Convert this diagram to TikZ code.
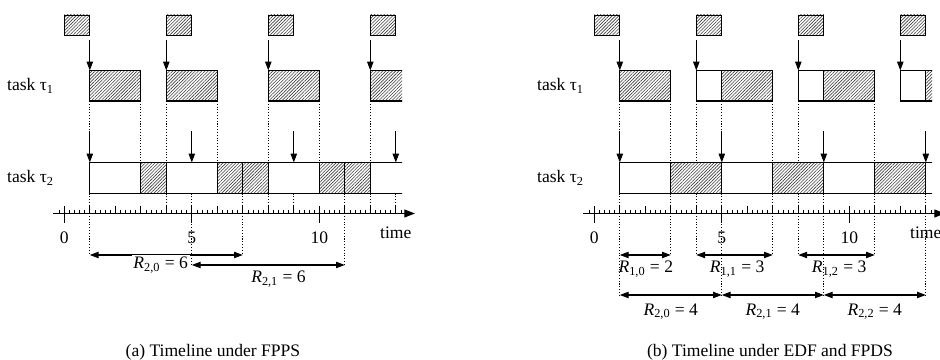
\documentclass[tikz,border=0pt]{standalone}
\usepackage{fontspec}
\setmainfont{Liberation Serif}
\usetikzlibrary{arrows.meta, patterns.meta}

\tikzset{
  hatched/.style={draw, line width=0.7pt,
    pattern={Lines[angle=45,distance=1.3pt,line width=0.35pt]},
    pattern color=black!75},
  plain/.style={draw, line width=0.7pt, fill=white},
  release/.style={-{Triangle[length=5pt,width=3.6pt]}, line width=0.6pt},
  guide/.style={densely dotted, line width=0.6pt},
  resp/.style={{Triangle[length=5pt,width=3.6pt]}-{Triangle[length=5pt,width=3.6pt]},
    line width=0.6pt},
  lbl/.style={font=\fontsize{10}{12}\selectfont, inner sep=0pt},
}

% arrivals, releases, time axis (same in both panels)
\newcommand{\timelinebase}{
  \foreach \t in {0,4,8,12}
    \draw[hatched, line width=0.5pt] (\t,6.5) rectangle ++(1,0.4);
  \foreach \t in {1,4,8,12}
    \draw[release] (\t,6.39) -- (\t,5.79);
  \foreach \t in {1,5,9,13}
    \draw[release] (\t,4.57) -- (\t,3.95);
  \draw[-{Triangle[length=6pt,width=4.5pt]}, line width=0.6pt]
    (-0.43,2.93) -- (13.75,2.93);
  \foreach \i in {-1,...,66}
    \draw[line width=0.4pt] (\i*0.2,2.93) -- ++(0,0.06);
  \foreach \i in {0,...,13}
    \draw[line width=0.4pt] (\i,2.93) -- ++(0,0.14);
  \foreach \i in {0,5,10}{
    \draw[line width=0.6pt] (\i,3.07) -- (\i,2.74);
    \node[lbl] (tick\i) at (\i,2.44) {\i};
  }
  \node[lbl] (time) at (13,2.54) {time};
  \node[lbl] (task1) at (-1.325,5.48) {task τ\textsubscript{1}};
  \node[lbl] (task2) at (-1.325,3.64) {task τ\textsubscript{2}};
}

\begin{document}
\begin{tikzpicture}
\useasboundingbox (0,0) rectangle (18.8,7.2);

% (a) FPPS
\begin{scope}[xshift=1.286cm, x=0.51cm]
  \timelinebase
  \begin{scope}
    \clip (-1,3) rectangle (13.25,6);
    \foreach \a/\b in {1/3,4/6,8/10,12/14}
      \draw[hatched] (\a,5.18) rectangle (\b,5.79);
    \draw[plain] (14,3.33) -- (1,3.33) -- (1,3.95) -- (14,3.95);
    \foreach \a in {3,6,7,10,11}
      \draw[hatched] (\a,3.33) rectangle ++(1,0.62);
  \end{scope}
  \draw[guide] (1,5.18) -- (1,4.57);
  \foreach \t in {3,4,6,8,10,12}
    \draw[guide] (\t,5.18) -- (\t,3.95);
  \foreach \t in {4,8,9,12,13}
    \draw[guide] (\t,3.33) -- (\t,2.93);
  \foreach \t/\y in {1/2.1,7/2.1,5/1.9,11/1.9}
    \draw[guide] (\t,3.33) -- (\t,\y);
  \draw[resp] (1,2.1) -- (7,2.1);
  \draw[resp] (5,1.9) -- (11,1.9);
  \node[lbl, fill=white, inner sep=1pt] (r20) at (3.78,1.9) {\textit{R}\textsubscript{2,0} = 6};
  \node[lbl] (r21) at (8.4,1.62) {\textit{R}\textsubscript{2,1} = 6};
  \node[lbl] (capa) at (5.83,0.16) {(a) Timeline under FPPS};
\end{scope}

% (b) EDF and FPDS
\begin{scope}[xshift=11.886cm, x=0.51cm]
  \timelinebase
  \begin{scope}
    \clip (-1,3) rectangle (13.25,6);
    \foreach \a/\b in {4/5,8/9,12/13}
      \draw[plain] (\a,5.18) rectangle (\b,5.79);
    \foreach \a/\b in {1/3,5/7,9/11,13/14}
      \draw[hatched] (\a,5.18) rectangle (\b,5.79);
    \draw[plain] (14,3.33) -- (1,3.33) -- (1,3.95) -- (14,3.95);
    \foreach \a in {3,7,11}
      \draw[hatched] (\a,3.33) rectangle ++(2,0.62);
  \end{scope}
  \foreach \t in {1,5}
    \draw[guide] (\t,5.18) -- (\t,4.57);
  \foreach \t in {3,4,7,8,11}
    \draw[guide] (\t,5.18) -- (\t,3.95);
  \foreach \t in {1,5,9,13}
    \draw[guide] (\t,3.33) -- (\t,1.3);
  \foreach \t in {3,4,7,8,11}
    \draw[guide] (\t,3.33) -- (\t,2.1);
  \foreach \a/\b in {1/3,4/7,8/11}
    \draw[resp] (\a,2.1) -- (\b,2.1);
  \foreach \a/\b in {1/5,5/9,9/13}
    \draw[resp] (\a,1.3) -- (\b,1.3);
  \node[lbl] (r10) at (2.02,1.82) {\textit{R}\textsubscript{1,0} = 2};
  \node[lbl] (r11) at (5.6,1.82) {\textit{R}\textsubscript{1,1} = 3};
  \node[lbl] (r12) at (9.6,1.82) {\textit{R}\textsubscript{1,2} = 3};
  \node[lbl] (r20b) at (3,0.97) {\textit{R}\textsubscript{2,0} = 4};
  \node[lbl] (r21b) at (7,0.97) {\textit{R}\textsubscript{2,1} = 4};
  \node[lbl] (r22b) at (11,0.97) {\textit{R}\textsubscript{2,2} = 4};
  \node[lbl] (capb) at (6.89,0.16) {(b) Timeline under EDF and FPDS};
\end{scope}
\end{tikzpicture}
\end{document}
